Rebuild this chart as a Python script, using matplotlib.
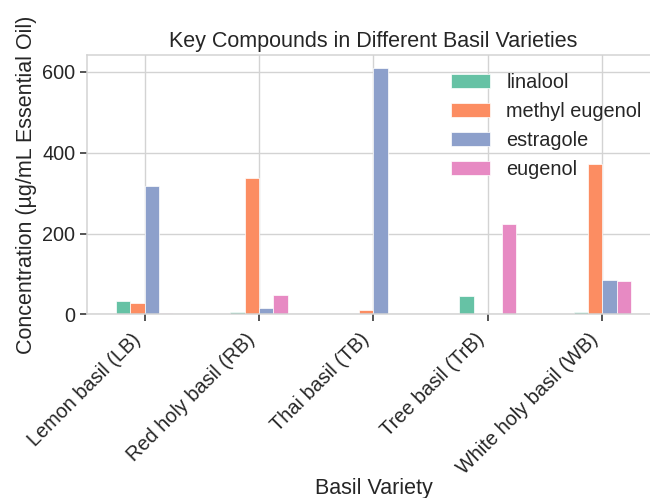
import numpy as np
import matplotlib
matplotlib.use("Agg")
import matplotlib.pyplot as plt

varieties = ["Lemon basil (LB)", "Red holy basil (RB)", "Thai basil (TB)",
             "Tree basil (TrB)", "White holy basil (WB)"]
compounds = ["linalool", "methyl eugenol", "estragole", "eugenol"]

linalool = [33, 6.5, 0, 45, 6]
methyl_eugenol = [29, 337, 11, 0, 373]
estragole = [318, 15, 611, 0, 85]
eugenol = [3, 49, 0, 224, 83]

colors = ["#66c2a5", "#fc8d62", "#8da0cb", "#e78ac3"]

plt.rcParams["font.family"] = ["Liberation Sans", "DejaVu Sans"]
plt.rcParams["text.color"] = "#262626"
plt.rcParams["axes.labelcolor"] = "#262626"
plt.rcParams["xtick.color"] = "#262626"
plt.rcParams["ytick.color"] = "#262626"

fig = plt.figure(figsize=(6.5, 4.98), dpi=100)
ax = fig.add_axes([87.3 / 650, 183.7 / 498, (659.5 - 87.3) / 650, (443 - 183.7) / 498])

series = [linalool, methyl_eugenol, estragole, eugenol]
x = np.arange(len(varieties))
w = 0.125
for i, (name, vals) in enumerate(zip(compounds, series)):
    ax.bar(x + (i - 1.5) * w, vals, w, color=colors[i], label=name,
           edgecolor="white", linewidth=0.5, zorder=2)

ax.set_xlim(-0.5, 4.5)
ax.set_ylim(0, 642)
ax.set_yticks([0, 200, 400, 600])
ax.set_xticks(x)
ax.set_xticklabels(varieties, rotation=45, ha="right")
ax.tick_params(labelsize=14.3, length=5, width=1.1, colors="#262626")
ax.tick_params(axis="x", pad=6)

ax.grid(True, color="#d3d3d3", linewidth=1.0, zorder=0)
ax.set_axisbelow(True)
for s in ax.spines.values():
    s.set_color("#d3d3d3")
    s.set_linewidth(1.1)

ax.set_title("Key Compounds in Different Basil Varieties", fontsize=15.5)
ax.set_xlabel("Basil Variety", fontsize=15.5, labelpad=0)
ax.set_ylabel("Concentration (\u00b5g/mL Essential Oil)", fontsize=15.5)
ax.legend(frameon=False, fontsize=14.3, loc="upper right")

fig.savefig("out.png", dpi=100)
